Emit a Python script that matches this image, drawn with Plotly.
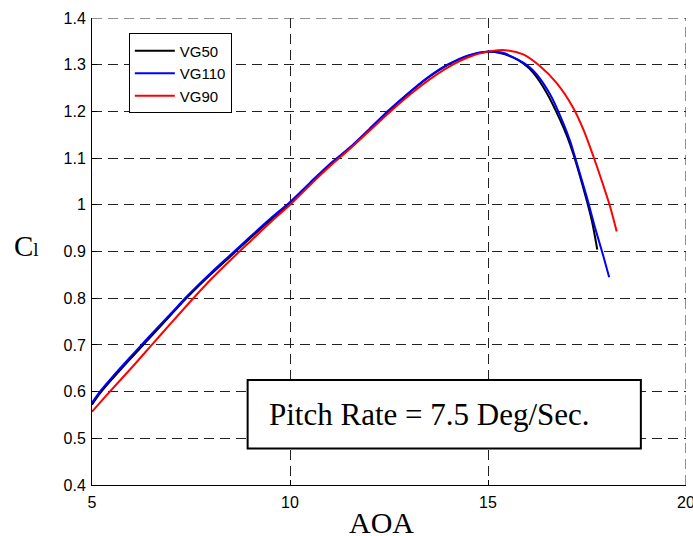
import plotly.graph_objects as go

# Lift coefficient vs angle of attack for three vortex-generator configurations
aoa_vg50 = [5.0, 5.2, 5.5, 6.0, 6.25, 6.5, 7.0, 7.35, 7.5, 8.0, 8.5, 9.0, 9.5, 10.0,
            10.5, 11.0, 11.5, 12.0, 12.5, 13.0, 13.5, 14.0, 14.5, 15.0, 15.3,
            15.64, 15.9, 16.14, 16.48, 16.82, 17.0, 17.15, 17.41, 17.62, 17.76]
cl_vg50 = [0.572, 0.596, 0.626, 0.673, 0.696, 0.719, 0.765, 0.797, 0.810, 0.851,
           0.890, 0.929, 0.967, 1.003, 1.044, 1.084, 1.120, 1.160, 1.201, 1.239,
           1.273, 1.300, 1.319, 1.3275, 1.325, 1.315, 1.302, 1.283, 1.240, 1.182,
           1.146, 1.110, 1.035, 0.967, 0.904]

aoa_vg110 = [5.0, 5.2, 5.5, 6.0, 6.25, 6.5, 7.0, 7.35, 7.5, 8.0, 8.5, 9.0, 9.5, 10.0,
             10.5, 11.0, 11.5, 12.0, 12.5, 13.0, 13.5, 14.0, 14.5, 15.0, 15.35,
             15.72, 16.0, 16.23, 16.57, 16.9, 17.08, 17.24, 17.49, 17.70, 17.91, 18.06]
cl_vg110 = [0.576, 0.600, 0.630, 0.677, 0.700, 0.723, 0.768, 0.800, 0.813, 0.854,
            0.893, 0.932, 0.970, 1.006, 1.047, 1.087, 1.122, 1.162, 1.203, 1.240,
            1.274, 1.301, 1.320, 1.328, 1.326, 1.3125, 1.298, 1.279, 1.236, 1.175,
            1.135, 1.090, 1.018, 0.952, 0.891, 0.845]

aoa_vg90 = [5.0, 5.45, 6.0, 6.51, 7.0, 7.56, 8.0, 8.5, 9.0, 9.5, 10.0, 10.5, 11.0,
            11.5, 12.0, 12.5, 13.0, 13.5, 14.0, 14.5, 15.0, 15.43, 15.89, 16.31,
            16.73, 17.15, 17.41, 17.66, 17.87, 18.08, 18.25]
cl_vg90 = [0.557, 0.600, 0.651, 0.700, 0.747, 0.800, 0.840, 0.882, 0.922, 0.962,
           1.000, 1.042, 1.082, 1.119, 1.158, 1.197, 1.234, 1.267, 1.295, 1.316,
           1.328, 1.331, 1.322, 1.297, 1.261, 1.208, 1.161, 1.104, 1.052, 0.997, 0.943]

x_ticks = [5, 10, 15, 20]
y_ticks = [0.4, 0.5, 0.6, 0.7, 0.8, 0.9, 1.0, 1.1, 1.2, 1.3, 1.4]
y_tick_text = ["0.4", "0.5", "0.6", "0.7", "0.8", "0.9", "1", "1.1", "1.2", "1.3", "1.4"]
x_range = [5, 20]
y_range = [0.4, 1.4]

SANS = "Arial, Liberation Sans, sans-serif"
SERIF = "Times New Roman, Liberation Serif, serif"
GRID_COLOR = "#222222"
GRID_DASH = "10px,6px"

fig = go.Figure()
for name, xs, ys, color in [("VG50", aoa_vg50, cl_vg50, "#000000"),
                            ("VG110", aoa_vg110, cl_vg110, "#0000ff"),
                            ("VG90", aoa_vg90, cl_vg90, "#ff0000")]:
    fig.add_trace(go.Scatter(x=xs, y=ys, mode="lines", name=name,
                             line=dict(color=color, width=2, shape="spline", smoothing=0.8)))

axis_common = dict(
    showgrid=True, gridcolor=GRID_COLOR, gridwidth=1, griddash=GRID_DASH,
    showline=True, linecolor="black", linewidth=1,
    ticks="inside", ticklen=5, tickcolor="black",
    tickfont=dict(family=SANS, size=16, color="black"),
    zeroline=False, mirror=False, ticklabeloverflow="allow", automargin=False,
)

fig.update_layout(
    width=693, height=536,
    margin=dict(l=92, r=7, t=18, b=51, pad=0, autoexpand=False),
    paper_bgcolor="white", plot_bgcolor="white",
    xaxis=dict(range=x_range, tickvals=x_ticks, ticklabelstandoff=3, **axis_common),
    yaxis=dict(range=y_range, tickvals=y_ticks, ticktext=y_tick_text,
               ticklabelstandoff=2, **axis_common),
    legend=dict(x=0.062, y=0.967, xanchor="left", yanchor="top",
                bgcolor="white", bordercolor="black", borderwidth=1,
                font=dict(family=SANS, size=15, color="black"),
                itemwidth=40, tracegroupgap=0),
    showlegend=True,
)

# Dashed grid lines along the top and right edges of the plot area
fig.add_shape(type="line", xref="x", yref="paper", x0=x_range[1], x1=x_range[1], y0=0, y1=1,
              line=dict(color=GRID_COLOR, width=1, dash=GRID_DASH), layer="below")
fig.add_shape(type="line", xref="paper", yref="y", x0=0, x1=1, y0=y_range[1], y1=y_range[1],
              line=dict(color=GRID_COLOR, width=1, dash=GRID_DASH), layer="below")

# Boxed note inside the plot
fig.add_shape(type="rect", xref="x", yref="y", x0=8.93, x1=18.86, y0=0.478, y1=0.625,
              line=dict(color="black", width=2), fillcolor="white", layer="above")
fig.add_annotation(xref="x", yref="y", x=9.42, y=0.552, xanchor="left", yanchor="middle",
                   text="Pitch Rate = 7.5 Deg/Sec.", showarrow=False,
                   font=dict(family=SERIF, size=31, color="black"))

# Axis titles
fig.add_annotation(xref="paper", yref="paper", x=0.4877, y=-0.081, xanchor="center",
                   yanchor="middle", text="AOA", showarrow=False, borderpad=0,
                   font=dict(family=SERIF, size=30, color="black"))
fig.add_annotation(xref="paper", yref="paper", x=-0.135, y=0.512, xanchor="left",
                   yanchor="middle", text='C<span style="font-size:19px">l</span>',
                   showarrow=False, font=dict(family=SERIF, size=29, color="black"))

fig.write_html("out.html")
